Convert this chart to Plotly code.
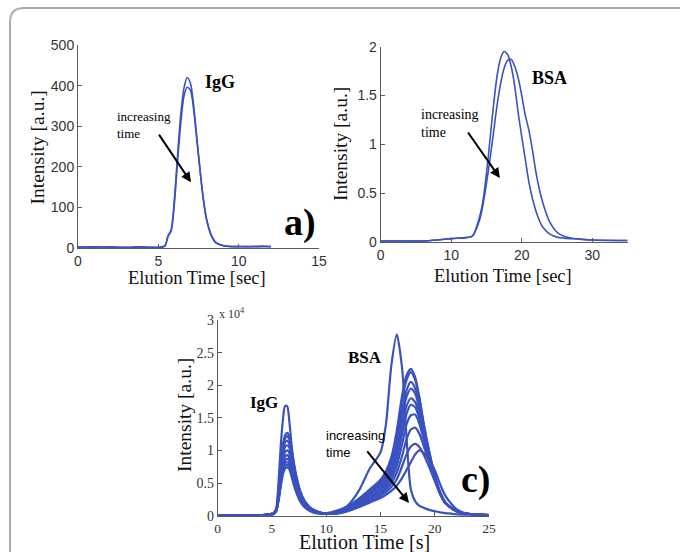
import plotly.graph_objects as go

W, H = 681, 552

# ---------------- data ----------------
# panel a) IgG, two injections
a_time = [0, 1, 2, 3, 4, 5, 5.4, 5.6, 5.8, 6.0, 6.2, 6.4, 6.6, 6.8, 7.0, 7.2, 7.4,
          7.6, 7.8, 8.0, 8.3, 8.6, 9.0, 9.5, 10, 11, 11.5, 12]
a_run1 = [3, 2, 3, 1, 2, 2, 5, 30, 45, 120, 230, 330, 395, 420, 405, 350, 270,
          190, 120, 70, 30, 12, 6, 4, 3, 4, 3, 4]
a_run2 = [2, 3, 2, 2, 3, 1, 4, 28, 42, 110, 215, 310, 375, 396, 388, 340, 265,
          190, 122, 72, 32, 13, 6, 3, 4, 3, 5, 3]

# panel b) BSA, two injections
b_time = [0, 3, 6, 8, 10, 12, 13, 14, 14.5, 15, 15.5, 16, 16.5, 17, 17.5, 18, 18.5,
          19, 19.5, 20, 20.5, 21, 21.5, 22, 22.5, 23, 24, 25, 26, 28, 30, 35]
b_run1 = [0.01, 0.01, 0.01, 0.02, 0.035, 0.045, 0.06, 0.25, 0.42, 0.7, 1.05, 1.4,
          1.7, 1.88, 1.95, 1.92, 1.8, 1.6, 1.32, 1.08, 0.85, 0.62, 0.45, 0.32, 0.22,
          0.15, 0.08, 0.05, 0.04, 0.03, 0.02, 0.015]
b_run2 = [0.01, 0.01, 0.01, 0.02, 0.035, 0.045, 0.06, 0.22, 0.38, 0.6, 0.85, 1.12,
          1.4, 1.62, 1.78, 1.86, 1.87, 1.8, 1.68, 1.5, 1.3, 1.15, 0.95, 0.72, 0.54,
          0.4, 0.2, 0.1, 0.06, 0.03, 0.02, 0.015]

# panel c) IgG + BSA mixture, repeated injections (intensity in units of 1e4)
c_time = [0, 2, 4, 5, 5.2, 5.4, 5.6, 5.8, 6.0, 6.2, 6.4, 6.6, 6.8, 7.0, 7.3, 7.6,
          8.0, 8.5, 9.0, 10,
          11, 12, 13, 14, 15, 15.5, 16, 16.5, 17, 17.4, 17.8, 18.2, 18.6, 19, 19.5,
          20, 20.5, 21, 22, 23, 25]
c_run1 = [0.01, 0.01, 0.01, 0.02, 0.05, 0.12, 0.5, 1.05, 1.45, 1.68, 1.68, 1.45,
          1.1, 0.8, 0.5, 0.3, 0.17, 0.1, 0.06, 0.04,
          0.08, 0.16, 0.38, 0.72, 0.97, 1.4, 2.3, 2.78, 2.25, 1.2, 0.4, 0.22, 0.15,
          0.12, 0.09, 0.07, 0.05, 0.04, 0.02, 0.01, 0.01]
c_run2 = [0.01, 0.01, 0.01, 0.02, 0.04, 0.08, 0.38, 0.76, 1.08, 1.23, 1.27, 1.22,
          1.04, 0.83, 0.57, 0.38, 0.23, 0.13, 0.08, 0.03,
          0.06, 0.14, 0.26, 0.4, 0.55, 0.68, 0.9, 1.3, 1.85, 2.15, 2.25, 2.12, 1.8,
          1.4, 0.98, 0.62, 0.36, 0.2, 0.07, 0.03, 0.01]
c_run3 = [0.01, 0.01, 0.01, 0.02, 0.04, 0.08, 0.37, 0.73, 1.04, 1.18, 1.22, 1.17,
          1.0, 0.79, 0.55, 0.37, 0.22, 0.12, 0.07, 0.03,
          0.06, 0.13, 0.24, 0.37, 0.52, 0.64, 0.85, 1.22, 1.78, 2.08, 2.2, 2.08, 1.77,
          1.38, 0.97, 0.62, 0.36, 0.2, 0.07, 0.03, 0.01]
c_run4 = [0.01, 0.01, 0.01, 0.02, 0.04, 0.08, 0.35, 0.69, 0.98, 1.12, 1.15, 1.1,
          0.94, 0.75, 0.52, 0.35, 0.21, 0.12, 0.07, 0.03,
          0.05, 0.12, 0.22, 0.35, 0.49, 0.6, 0.8, 1.12, 1.62, 1.92, 2.05, 1.95, 1.68,
          1.32, 0.94, 0.6, 0.35, 0.19, 0.07, 0.03, 0.01]
c_run5 = [0.01, 0.01, 0.01, 0.02, 0.04, 0.08, 0.32, 0.65, 0.92, 1.05, 1.08, 1.04,
          0.89, 0.7, 0.49, 0.32, 0.19, 0.11, 0.06, 0.03,
          0.05, 0.11, 0.21, 0.33, 0.46, 0.56, 0.74, 1.04, 1.52, 1.82, 1.95, 1.87, 1.62,
          1.28, 0.92, 0.59, 0.35, 0.19, 0.07, 0.03, 0.01]
c_run6 = [0.01, 0.01, 0.01, 0.02, 0.04, 0.08, 0.3, 0.6, 0.85, 0.97, 1.0, 0.96,
          0.82, 0.65, 0.45, 0.3, 0.18, 0.1, 0.06, 0.03,
          0.05, 0.1, 0.19, 0.3, 0.42, 0.52, 0.68, 0.95, 1.38, 1.68, 1.8, 1.74, 1.53,
          1.23, 0.89, 0.58, 0.34, 0.19, 0.07, 0.03, 0.01]
c_run7 = [0.01, 0.01, 0.01, 0.02, 0.04, 0.08, 0.28, 0.56, 0.79, 0.9, 0.93, 0.89,
          0.76, 0.6, 0.42, 0.28, 0.17, 0.09, 0.06, 0.03,
          0.04, 0.1, 0.18, 0.28, 0.4, 0.48, 0.62, 0.86, 1.26, 1.56, 1.7, 1.66, 1.48,
          1.2, 0.88, 0.58, 0.34, 0.19, 0.07, 0.03, 0.01]
c_run8 = [0.01, 0.01, 0.01, 0.02, 0.04, 0.08, 0.26, 0.52, 0.74, 0.84, 0.87, 0.84,
          0.71, 0.57, 0.39, 0.26, 0.16, 0.09, 0.05, 0.03,
          0.04, 0.09, 0.16, 0.26, 0.36, 0.44, 0.56, 0.76, 1.1, 1.4, 1.54, 1.55, 1.4,
          1.15, 0.86, 0.57, 0.34, 0.19, 0.07, 0.03, 0.01]
c_run9 = [0.01, 0.01, 0.01, 0.02, 0.04, 0.08, 0.25, 0.49, 0.7, 0.8, 0.82, 0.79,
          0.67, 0.53, 0.37, 0.25, 0.15, 0.08, 0.05, 0.03,
          0.04, 0.08, 0.15, 0.24, 0.33, 0.4, 0.5, 0.66, 0.92, 1.17, 1.32, 1.35, 1.25,
          1.06, 0.82, 0.56, 0.34, 0.19, 0.07, 0.03, 0.01]
c_run10 = [0.01, 0.01, 0.01, 0.02, 0.04, 0.08, 0.23, 0.47, 0.66, 0.76, 0.78, 0.75,
           0.64, 0.51, 0.35, 0.23, 0.14, 0.08, 0.05, 0.03,
           0.04, 0.08, 0.14, 0.22, 0.3, 0.36, 0.44, 0.56, 0.76, 0.94, 1.06, 1.1, 1.05,
           0.93, 0.74, 0.53, 0.33, 0.19, 0.07, 0.03, 0.01]
c_run11 = [0.01, 0.01, 0.01, 0.02, 0.04, 0.08, 0.22, 0.44, 0.63, 0.72, 0.74, 0.71,
           0.61, 0.48, 0.33, 0.22, 0.13, 0.07, 0.04, 0.03,
           0.03, 0.07, 0.13, 0.2, 0.27, 0.32, 0.38, 0.46, 0.58, 0.7, 0.82, 0.94, 1.0,
           0.96, 0.86, 0.7, 0.48, 0.3, 0.1, 0.03, 0.01]
c_runs = [c_run1, c_run2, c_run3, c_run4, c_run5, c_run6, c_run7, c_run8, c_run9,
          c_run10, c_run11]

a_xticks = [0, 5, 10, 15]
a_yticks = [0, 100, 200, 300, 400, 500]
b_xticks = [0, 10, 20, 30]
b_yticks = [0, 0.5, 1, 1.5, 2]
b_yticklabels = ["0", "0.5", "1", "1.5", "2"]
c_xticks = [0, 5, 10, 15, 20, 25]
c_yticks = [0, 0.5, 1, 1.5, 2, 2.5, 3]
c_yticklabels = ["0", "0.5", "1", "1.5", "2", "2.5", "3"]

# ---------------- styling ----------------
BLUE = "#3a52c0"
AXC = "#5a5a5a"
SERIF = "Liberation Serif, Times New Roman, serif"
SANS = "Liberation Sans, Arial, sans-serif"


def px_x(p):
    return p / W


def px_y(p):
    return 1 - p / H


fig = go.Figure()

for y in (a_run1, a_run2):
    fig.add_trace(go.Scatter(x=a_time, y=y, mode="lines", xaxis="x", yaxis="y",
                             line=dict(color=BLUE, width=1.6, shape="spline", smoothing=0.8),
                             showlegend=False, hoverinfo="skip"))
for y in (b_run1, b_run2):
    fig.add_trace(go.Scatter(x=b_time, y=y, mode="lines", xaxis="x2", yaxis="y2",
                             line=dict(color=BLUE, width=1.6, shape="spline", smoothing=0.8),
                             showlegend=False, hoverinfo="skip"))
for y in c_runs:
    fig.add_trace(go.Scatter(x=c_time, y=y, mode="lines", xaxis="x3", yaxis="y3",
                             line=dict(color=BLUE, width=2.2, shape="spline", smoothing=0.7),
                             showlegend=False, hoverinfo="skip"))


def axis(domain, rng, ticks, anchor, tickfont, tsize=14, ticktext=None):
    d = dict(domain=domain, range=rng, tickvals=ticks, anchor=anchor,
             showline=True, linecolor=AXC, linewidth=1, mirror=False,
             ticks="inside", ticklen=4, tickcolor=AXC, showgrid=False, zeroline=False,
             tickfont=dict(family=tickfont, size=tsize, color="#333333"),
             automargin=False, fixedrange=True)
    if ticktext is not None:
        d["ticktext"] = ticktext
    return d


fig.update_layout(
    width=W, height=H,
    margin=dict(l=0, r=0, t=0, b=0, autoexpand=False),
    paper_bgcolor="white", plot_bgcolor="white",
    xaxis=axis([px_x(78), px_x(319)], [0, 15], a_xticks, "y", SANS),
    yaxis=axis([px_y(248), px_y(45)], [0, 500], a_yticks, "x", SANS),
    xaxis2=axis([px_x(380.7), px_x(627.5)], [0, 35], b_xticks, "y2", SANS),
    yaxis2=axis([px_y(242), px_y(46.7)], [0, 2], b_yticks, "x2", SANS, 14, b_yticklabels),
    xaxis3=axis([px_x(217.7), px_x(489)], [0, 25], c_xticks, "y3", SERIF, 13.5),
    yaxis3=axis([px_y(515.7), px_y(320)], [0, 3], c_yticks, "x3", SERIF, 14, c_yticklabels),
)

ann = []


def text(xr, yr, x, y, t, fam, size, bold=False, xanchor="center"):
    ann.append(dict(xref=xr, yref=yr, x=x, y=y, text=("<b>%s</b>" % t) if bold else t,
                    showarrow=False, xanchor=xanchor, yanchor="middle", align="left",
                    font=dict(family=fam, size=size, color="black")))


def title(cx, cy, t, size, angle=0):
    ann.append(dict(xref="paper", yref="paper", x=px_x(cx), y=px_y(cy), text=t,
                    showarrow=False, xanchor="center", yanchor="middle", textangle=angle,
                    font=dict(family=SERIF, size=size, color="#111111")))


def arrow(xr, yr, x0, y0, x1, y1):
    ann.append(dict(xref=xr, yref=yr, axref=xr, ayref=yr, x=x1, y=y1, ax=x0, ay=y0,
                    text="", showarrow=True, arrowhead=2, arrowsize=1, arrowwidth=2,
                    arrowcolor="black", standoff=0))


# axis titles
title(197.5, 278, "Elution Time [sec]", 18.5)
title(37, 147.5, "Intensity [a.u.]", 19.5, -90)
title(503, 276, "Elution Time [sec]", 18.5)
title(340, 144, "Intensity [a.u.]", 19.5, -90)
title(364, 542, "Elution Time [s]", 20)
title(184, 415, "Intensity [a.u.]", 19.5, -90)

# panel a
text("x", "y", 8.84, 409, "IgG", SERIF, 18, True)
text("x", "y", 13.8, 64, "a)", SERIF, 38, True)
text("x", "y", 2.3, 303, "increasing<br>time", SERIF, 13, xanchor="left")
arrow("x", "y", 4.98, 283, 7.03, 162)
# panel b
text("x2", "y2", 24.0, 1.68, "BSA", SERIF, 18, True)
text("x2", "y2", 35.6, 0.225, "b)", SERIF, 38, True)
text("x2", "y2", 5.43, 1.21, "increasing<br>time", SERIF, 14, xanchor="left")
arrow("x2", "y2", 12.24, 1.137, 16.9, 0.655)
# panel c
text("x3", "y3", 4.27, 1.73, "IgG", SERIF, 17, True)
text("x3", "y3", 13.57, 2.42, "BSA", SERIF, 17, True)
text("x3", "y3", 23.8, 0.55, "c)", SERIF, 38, True)
text("x3", "y3", 9.8, 1.1, "increasing<br>time", SANS, 13, xanchor="left")
arrow("x3", "y3", 13.67, 1.01, 17.63, 0.195)
# x 10^4 multiplier
ann.append(dict(xref="paper", yref="paper", x=px_x(217), y=px_y(313), text="x 10<sup>4</sup>",
                showarrow=False, xanchor="left", yanchor="middle",
                font=dict(family=SERIF, size=12, color="#333333")))

fig.update_layout(annotations=ann)

# rounded frame of the figure
fig.add_shape(type="path", xref="paper", yref="paper",
              path="M %.4f,-0.02 L %.4f,%.4f Q %.4f,%.4f %.4f,%.4f L %.4f,%.4f" % (
                  px_x(10), px_x(10), px_y(22), px_x(10), px_y(8), px_x(24), px_y(8),
                  px_x(680), px_y(8)),
              line=dict(color="#ababab", width=2))

fig.write_html("out.html", config={"displayModeBar": False},
               post_script="document.body.style.margin='0';document.body.style.overflow='hidden';")
